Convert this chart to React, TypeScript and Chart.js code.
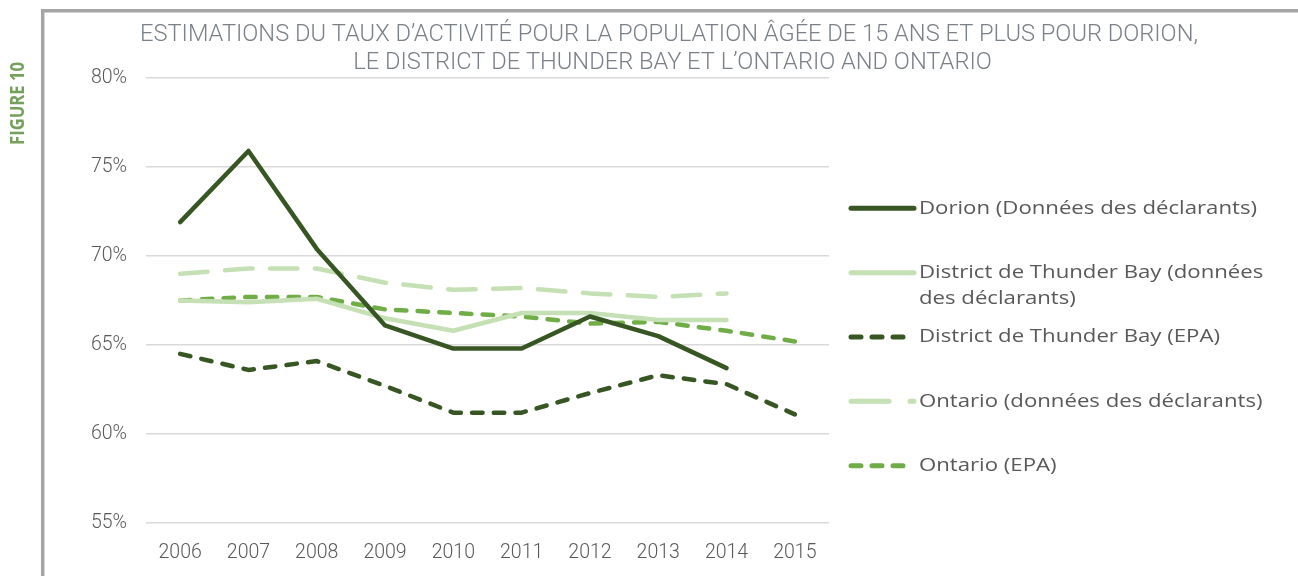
import React, { useEffect, useRef } from "react";
import { Chart, registerables } from "chart.js";

Chart.register(...registerables);

const years = ["2006", "2007", "2008", "2009", "2010", "2011", "2012", "2013", "2014", "2015"];
const dorionDeclarants = [71.9, 75.9, 70.4, 66.1, 64.8, 64.8, 66.6, 65.5, 63.7, null];
const thunderBayDeclarants = [67.5, 67.4, 67.6, 66.5, 65.8, 66.8, 66.8, 66.4, 66.4, null];
const thunderBayEpa = [64.5, 63.6, 64.1, 62.7, 61.2, 61.2, 62.3, 63.3, 62.8, 61.1];
const ontarioDeclarants = [69.0, 69.3, 69.3, 68.5, 68.1, 68.2, 67.9, 67.7, 67.9, null];
const ontarioEpa = [67.5, 67.7, 67.7, 67.0, 66.8, 66.6, 66.2, 66.3, 65.8, 65.2];
const yTickValues = [55, 60, 65, 70, 75, 80];

const seriesLabels = [
  "Dorion (Données des déclarants)",
  "District de Thunder Bay (données des déclarants)",
  "District de Thunder Bay (EPA)",
  "Ontario (données des déclarants)",
  "Ontario (EPA)",
];

const titleLines = [
  "ESTIMATIONS DU TAUX D\u2019ACTIVITÉ POUR LA POPULATION ÂGÉE DE 15 ANS ET PLUS POUR DORION,",
  "LE DISTRICT DE THUNDER BAY ET L\u2019ONTARIO AND ONTARIO",
];
const figureLabel = "FIGURE 10";

const DARK = "#375623";
const LIGHT = "#c5e0b4";
const MID = "#70ad47";
const TEXT = "#595959";

const decorPlugin = {
  id: "decor",
  afterDraw(chart: any) {
    const ctx = chart.ctx as CanvasRenderingContext2D;
    const area = chart.chartArea;
    ctx.save();
    // frame
    ctx.strokeStyle = "#a3a6a3";
    ctx.lineWidth = 3.5;
    ctx.beginPath();
    ctx.moveTo(42.7, 580);
    ctx.lineTo(42.7, 10.7);
    ctx.lineTo(1300, 10.7);
    ctx.stroke();

    // figure label
    ctx.save();
    ctx.translate(18.5, 103.5);
    ctx.rotate(-Math.PI / 2);
    ctx.font = 'bold 20px "Open Sans"';
    const fw = ctx.measureText(figureLabel).width;
    ctx.scale(83 / fw, 1);
    ctx.fillStyle = "#74a05c";
    ctx.textAlign = "center";
    ctx.textBaseline = "middle";
    ctx.fillText(figureLabel, 0, 0);
    ctx.restore();

    // title
    ctx.font = '300 24px Roboto';
    ctx.fillStyle = "#7a8088";
    ctx.textAlign = "center";
    ctx.textBaseline = "alphabetic";
    const w0 = ctx.measureText(titleLines[0]).width;
    const sx = 1058 / w0;
    const centers = [669, 672.5];
    const baselines = [40.5, 68.5];
    titleLines.forEach((line, i) => {
      ctx.save();
      ctx.translate(centers[i], baselines[i]);
      ctx.scale(sx, 1);
      ctx.fillText(line, 0, 0);
      ctx.restore();
    });

    // legend
    ctx.font = '19px "Open Sans"';
    const refW = ctx.measureText(seriesLabels[0]).width;
    const lsx = 338 / refW;
    const maxW = 360;
    const x0 = area.right + 22;
    const sampleLen = 63;
    const textX = x0 + sampleLen + 5;
    chart.data.datasets.forEach((ds: any, i: number) => {
      const y = 208.3 + i * 64.35;
      ctx.save();
      ctx.strokeStyle = ds.borderColor;
      ctx.lineWidth = 5;
      ctx.lineCap = "round";
      ctx.setLineDash(ds.legendDash || []);
      ctx.beginPath();
      ctx.moveTo(x0, y);
      ctx.lineTo(x0 + sampleLen, y);
      ctx.stroke();
      ctx.restore();

      const words = String(ds.label).split(" ");
      const lines: string[] = [];
      let cur = "";
      words.forEach((wd) => {
        const test = cur ? cur + " " + wd : wd;
        if (ctx.measureText(test).width * lsx > maxW && cur) {
          lines.push(cur);
          cur = wd;
        } else cur = test;
      });
      if (cur) lines.push(cur);
      ctx.fillStyle = TEXT;
      ctx.textAlign = "left";
      ctx.textBaseline = "middle";
      lines.forEach((ln, j) => {
        ctx.save();
        ctx.translate(textX, y + j * 26);
        ctx.scale(lsx, 1);
        ctx.fillText(ln, 0, 0);
        ctx.restore();
      });
    });
    ctx.restore();
  },
};

export default function App() {
  const ref = useRef<HTMLCanvasElement | null>(null);
  useEffect(() => {
    if (!ref.current) return;
    const common = {
      pointRadius: 0,
      pointHoverRadius: 0,
      borderWidth: 4.5,
      borderCapStyle: "round",
      borderJoinStyle: "round",
      tension: 0,
      fill: false,
    };
    const chart = new Chart(ref.current, {
      type: "line",
      data: {
        labels: years,
        datasets: [
          { ...common, label: seriesLabels[0], data: dorionDeclarants, borderColor: DARK, legendDash: [] },
          { ...common, label: seriesLabels[1], data: thunderBayDeclarants, borderColor: LIGHT, legendDash: [] },
          { ...common, label: seriesLabels[2], data: thunderBayEpa, borderColor: DARK, borderDash: [10.5, 11.2], legendDash: [10, 11] },
          { ...common, label: seriesLabels[3], data: ontarioDeclarants, borderColor: LIGHT, borderDash: [27.5, 17.5], legendDash: [38, 21] },
          { ...common, label: seriesLabels[4], data: ontarioEpa, borderColor: MID, borderDash: [10.5, 11.2], legendDash: [10, 11] },
        ] as any,
      },
      options: {
        responsive: false,
        animation: false,
        events: [],
        layout: { padding: { top: 78, left: 0, right: 469, bottom: 0 } },
        plugins: {
          legend: { display: false },
          title: { display: false },
          tooltip: { enabled: false },
        },
        scales: {
          x: {
            type: "category",
            offset: true,
            grid: { display: false, drawTicks: false },
            border: { display: false },
            ticks: {
              color: TEXT,
              font: { family: "Roboto", size: 19.5, weight: "300" },
              padding: 18,
              maxRotation: 0,
              autoSkip: false,
            },
            afterFit: (s: any) => {
              s.height = 53;
            },
          },
          y: {
            min: 55,
            max: 80,
            afterBuildTicks: (s: any) => {
              s.ticks = yTickValues.map((v) => ({ value: v }));
            },
            grid: { color: "#d9d9d9", lineWidth: 1.5, drawTicks: false },
            border: { display: false },
            ticks: {
              color: TEXT,
              font: { family: "Roboto", size: 19.5, weight: "300" },
              padding: 19,
              callback: (v: any) => v + "%",
            },
            afterFit: (s: any) => {
              s.width = 146;
            },
          },
        },
      },
      plugins: [decorPlugin],
    } as any);
    return () => chart.destroy();
  }, []);
  return (
    <div style={{ position: "absolute", left: 0, top: 0, width: 1298, height: 576, background: "#fff" }}>
      <canvas ref={ref} width={1298} height={576} style={{ display: "block" }} />
    </div>
  );
}
